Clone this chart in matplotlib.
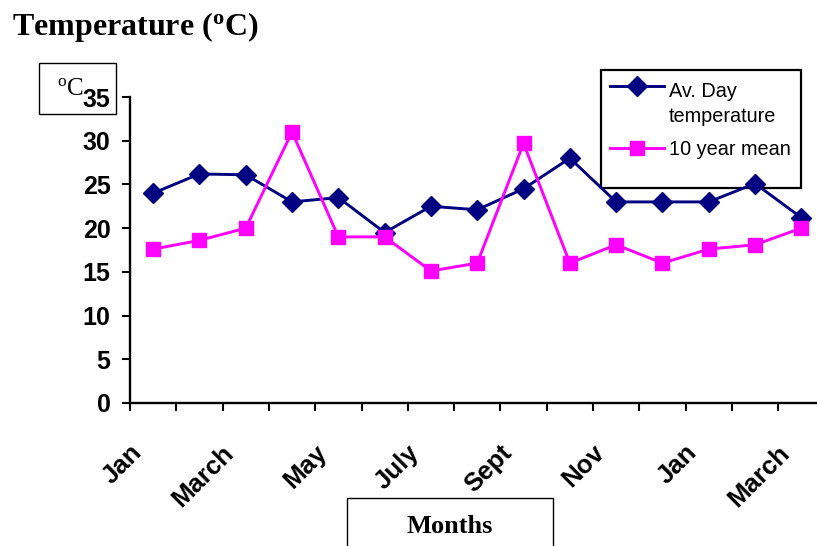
import matplotlib
matplotlib.use("Agg")
import matplotlib.pyplot as plt
from matplotlib.patches import Rectangle
from matplotlib.lines import Line2D
from matplotlib.transforms import ScaledTranslation

plt.rcParams['mathtext.fontset'] = 'custom'
plt.rcParams['mathtext.rm'] = 'Liberation Serif'
plt.rcParams['mathtext.bf'] = 'Liberation Serif:bold'

# Data
months = ['Jan', 'Feb', 'March', 'April', 'May', 'June', 'July', 'Aug',
          'Sept', 'Oct', 'Nov', 'Dec', 'Jan', 'Feb', 'March']
day_temp = [24, 26.2, 26.1, 23, 23.5, 19.5, 22.5, 22.1, 24.5, 28, 23, 23, 23, 25.1, 21.2]
mean_10yr = [17.6, 18.6, 20, 31, 19, 19, 15.1, 16, 29.7, 16, 18.1, 16, 17.6, 18.1, 20]
series_names = ['Av. Day\ntemperature', '10 year mean']
yticks = [0, 5, 10, 15, 20, 25, 30, 35]

W, H = 817, 546
NAVY = '#000080'
MAGENTA = '#ff00ff'
SANS = 'Liberation Sans'
SERIF = 'Liberation Serif'


def fx(x):
    return x / W


def fy(y):
    return 1 - y / H


fig = plt.figure(figsize=(W / 100, H / 100), dpi=100)
# plot area: left spine at x=130, 15 categories of ~46.3px, y 0 at 403, 35 at 97
cat_w = 46.3
ax = fig.add_axes([fx(130), fy(403), 15 * cat_w / W, (403 - 97) / H])

x = list(range(len(months)))
ax.plot(x, day_temp, color=NAVY, lw=2.1, marker='D', ms=10, zorder=4)
ax.plot(x, mean_10yr, color=MAGENTA, lw=2.1, marker='s', ms=10.5, zorder=4)

ax.set_xlim(-0.5, len(months) - 0.5)
ax.set_ylim(0, 35)
for s in ['top', 'right']:
    ax.spines[s].set_visible(False)
for s in ['left', 'bottom']:
    ax.spines[s].set_linewidth(1.7)

ax.set_yticks(yticks)
ax.set_yticklabels([str(v) for v in yticks], fontsize=18, fontweight='bold', family=SANS)
ax.tick_params(axis='y', direction='out', length=6, width=1.5, pad=8)

# tick marks between categories, labels on every second month
ax.set_xticks([i - 0.5 for i in range(len(months) + 1)], minor=True)
ax.set_xticks(x[::2])
ax.set_xticklabels(months[::2], fontsize=18.5, fontweight='bold', family=SANS,
                   rotation=45, ha='right', va='top')
ax.tick_params(axis='x', which='major', length=0, pad=27)
ax.tick_params(axis='x', which='minor', direction='out', length=5.5, width=1.5)
shift = ScaledTranslation(-7 / 100, 0, fig.dpi_scale_trans)
for lab in ax.get_xticklabels():
    lab.set_transform(lab.get_transform() + shift)

# legend box (drawn under the data lines)
tf = fig.transFigure
ax.add_patch(Rectangle((fx(601), fy(188)), fx(200), 118 / H, transform=tf,
                       facecolor='white', edgecolor='black', lw=1.6,
                       clip_on=False, zorder=2))
ax.add_line(Line2D([fx(610), fx(664)], [fy(86), fy(86)], transform=tf, color=NAVY,
                   lw=2.1, clip_on=False, zorder=3))
ax.add_line(Line2D([fx(637)], [fy(86)], transform=tf, color=NAVY, marker='D',
                   ms=10, clip_on=False, zorder=3))
ax.add_line(Line2D([fx(610), fx(664)], [fy(148), fy(148)], transform=tf, color=MAGENTA,
                   lw=2.1, clip_on=False, zorder=3))
ax.add_line(Line2D([fx(637)], [fy(148)], transform=tf, color=MAGENTA, marker='s',
                   ms=10.5, clip_on=False, zorder=3))
fig.text(fx(669), fy(97), series_names[0].split('\n')[0], fontsize=14.3, family=SANS)
fig.text(fx(669), fy(122), series_names[0].split('\n')[1], fontsize=14.3, family=SANS)
fig.text(fx(669), fy(155), series_names[1], fontsize=14.3, family=SANS)

# title
fig.text(fx(12), fy(35), r'Temperature ($\mathbf{^o}$C)', fontsize=23,
         fontweight='bold', family=SERIF)

# y unit box
ax.add_patch(Rectangle((fx(39), fy(114)), 77 / W, 51 / H, transform=tf,
                       facecolor='white', edgecolor='black', lw=1.0,
                       clip_on=False, zorder=0.5))
fig.text(fx(57), fy(95), r'$\mathrm{^o}$C', fontsize=18, family=SERIF, zorder=0.6)

# x axis title box
ax.add_patch(Rectangle((fx(347), fy(560)), 206 / W, 62 / H, transform=tf,
                       facecolor='white', edgecolor='black', lw=1.0,
                       clip_on=False, zorder=1))
fig.text(fx(450), fy(533), 'Months', fontsize=19, fontweight='bold', family=SERIF,
         ha='center')

fig.savefig('out.png', dpi=100)
